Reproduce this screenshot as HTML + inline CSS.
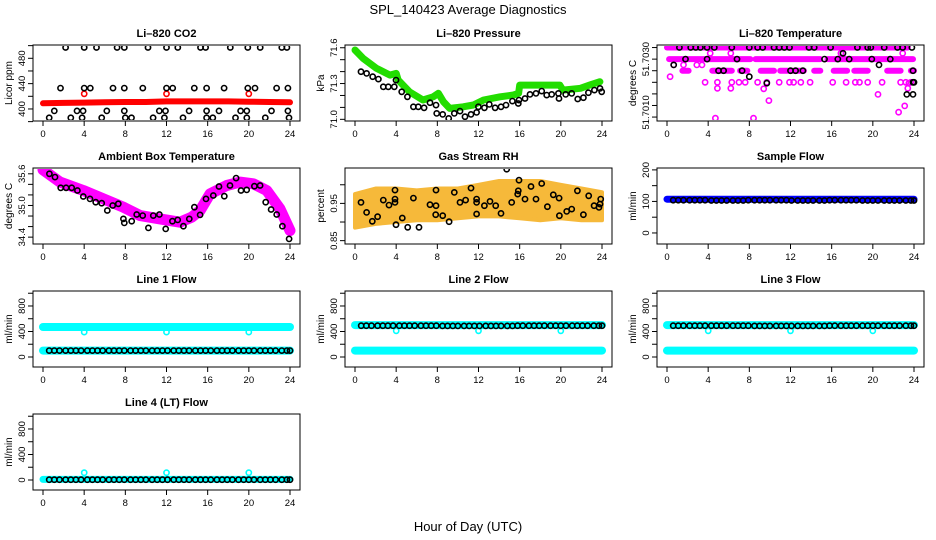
<!DOCTYPE html>
<html><head><meta charset="utf-8"><title>SPL_140423 Average Diagnostics</title>
<style>
html,body{margin:0;padding:0;background:#fff;}
svg{display:block;font-family:"Liberation Sans",Arial,sans-serif;}
</style></head>
<body>
<svg id="chart" width="936" height="540" viewBox="0 0 936 540" xmlns="http://www.w3.org/2000/svg">
<rect x="0" y="0" width="936" height="540" fill="#fff"/>
<text x="468" y="14" text-anchor="middle" font-size="13">SPL_140423  Average Diagnostics</text>
<text x="468" y="531" text-anchor="middle" font-size="13">Hour of Day (UTC)</text>
</svg>
<script>
// ---------- data ----------
const xTicks = [0,4,8,12,16,20,24];

// CO2
const co2RedHours = [0,2,4,6,8,10,12,14,16,18,20,22,24];
const co2RedValues = [409,409.5,410,410.5,411,411,412,412,412,412,411.5,411,410.5];
const co2RedCircleHours = [4,12,20];
const co2RedCircleValues = [424,424,424];
const co2BlackHours = [2.2,4.0,5.2,7.2,7.9,10.2,12.0,13.1,15.3,15.8,18.2,19.9,21.1,23.2,23.7,
 1.7,4.0,4.6,6.8,7.9,9.7,12.0,12.6,14.7,15.9,17.6,19.9,20.6,22.7,23.8,
 1.1,3.3,3.9,6.2,7.9,11.3,11.9,14.2,15.9,17.1,19.2,19.8,22.2,23.8,
 0.6,2.7,3.8,5.7,8.0,8.6,10.7,11.8,13.6,15.9,16.5,18.7,19.8,21.6,23.9];
const co2BlackValues = [497,497,497,497,497,497,497,497,497,497,497,497,497,497,497,
 433,433,433,433,433,433,433,433,433,433,433,433,433,433,433,
 397,397,397,397,397,397,397,397,397,397,397,397,397,397,
 386,386,386,386,386,386,386,386,386,386,386,386,386,386,386];
const co2Ticks = [380,400,420,440,460,480,500];
const co2Labels = ["400","440","480"];
const co2LabelValues = [400,440,480];

// Pressure
const presGreenHours = [0,0.8,2.1,3.4,4.0,4.2,5.3,6.6,7.6,8.1,8.6,9.2,10.5,11.5,12.5,14.1,15.4,15.9,16.0,17.3,18.6,19.9,20.2,21.9,22.8,23.8];
const presGreenValues = [71.581,71.511,71.427,71.371,71.385,71.329,71.231,71.162,71.189,71.218,71.147,71.092,71.105,71.120,71.162,71.189,71.204,71.218,71.287,71.287,71.287,71.287,71.245,71.260,71.287,71.315];
const presBlackHours = [0.58,1.13,1.72,2.27,2.75,3.24,3.82,3.98,4.54,5.09,5.67,6.15,6.71,7.29,7.87,7.94,8.52,9.10,9.65,10.2,10.69,11.27,11.82,11.99,12.57,13.05,13.61,14.19,14.67,15.29,15.87,15.94,16.52,17.0,17.59,18.14,18.63,19.11,19.76,19.82,20.47,21.06,21.64,22.19,22.68,23.26,23.81,23.97];
const presBlackValues = [71.399,71.385,71.357,71.337,71.273,71.273,71.273,71.329,71.231,71.189,71.105,71.105,71.097,71.139,71.119,71.050,71.041,71.008,71.050,71.069,71.022,71.041,71.058,71.105,71.097,71.125,71.097,71.105,71.119,71.153,71.133,71.161,71.175,71.209,71.217,71.237,71.203,71.209,71.217,71.175,71.209,71.217,71.170,71.181,71.223,71.245,71.259,71.231];
const presTicks = [71.0,71.1,71.2,71.3,71.4,71.5,71.6];
const presLabels = ["71.0","71.3","71.6"];
const presLabelValues = [71.0,71.3,71.6];

// Li-820 temperature
const tempSegStart = [0,0.2,8.6,15.6,1.5,4.4,7.1,9.1,11.0,11.9,14.3,16.2,18.2,21.4,23.7];
const tempSegEnd = [23.4,8.1,14.9,23.9,2.1,6.3,7.8,10.4,11.7,13.3,14.9,17.5,19.5,22.7,24.0];
const tempSegLevel = [51.7035,51.7030,51.7030,51.7030,51.7025,51.7025,51.7025,51.7025,51.7025,51.7025,51.7025,51.7025,51.7025,51.7025,51.7025];
const tempMagHours = [3.7,4.9,6.3,7.0,7.6,8.8,9.7,10.9,11.9,12.3,13.0,13.9,16.1,17.4,18.3,18.7,19.5,20.9,22.7,23.2,23.7,
 0.3,0.65,1.6,2.9,3.4,4.9,6.2,9.4,9.9,4.7,8.4,20.5,22.5,23.1,23.4,23.5,22.9,16.9,4.2,6.2];
const tempMagValues = [51.7020,51.7020,51.7020,51.7020,51.7020,51.7020,51.7020,51.7020,51.7020,51.7020,51.7020,51.7020,51.7020,51.7020,51.7020,51.7020,51.7020,51.7020,51.7020,51.7020,51.7020,
 51.70224,51.70275,51.70275,51.70275,51.70275,51.70174,51.70174,51.70172,51.70121,51.70045,51.70045,51.70148,51.70071,51.70098,51.70174,51.70196,51.70325,51.70325,51.70325,51.70325];
const tempBlackHours = [1.2,2.3,2.8,3.25,3.9,4.6,6.3,8.0,8.8,9.3,10.4,10.9,11.4,11.9,13.8,14.3,15.9,18.5,19.5,19.8,21.1,22.4,22.9,23.8,
 1.8,3.9,6.8,15.3,16.6,17.7,19.9,21.7,
 5.0,5.5,7.3,12.0,12.5,13.2,23.9,24.0,
 0.65,8.0,9.7,17.1,20.6,23.9,23.3,23.9];
const tempBlackValues = [51.7035,51.7035,51.7035,51.7035,51.7035,51.7035,51.7035,51.7035,51.7035,51.7035,51.7035,51.7035,51.7035,51.7035,51.7035,51.7035,51.7035,51.7035,51.7035,51.7035,51.7035,51.7035,51.7035,51.7035,
 51.7030,51.7030,51.7030,51.7030,51.7030,51.7030,51.7030,51.7030,
 51.7025,51.7025,51.7025,51.7025,51.7025,51.7025,51.7025,51.7020,
 51.70275,51.70224,51.70196,51.70325,51.70275,51.7020,51.70148,51.70148];
const tempTicks = [51.7005,51.7010,51.7015,51.7020,51.7025,51.7030,51.7035];
const tempLabels = ["51.7010","51.7030"];
const tempLabelValues = [51.7007,51.7030];

// Ambient box temperature
const ambBandHours = [0,1.65,3.92,5.86,7.81,9.43,11.37,13.31,14.45,15.26,16.23,17.85,19.14,20.44,21.74,23.03,24.0];
const ambBandValues = [35.676,35.442,35.283,35.126,34.968,34.809,34.746,34.683,34.778,34.904,35.22,35.378,35.442,35.41,35.283,34.936,34.524];
const ambBlackHours = [0.62,1.17,1.72,2.24,2.79,3.34,3.92,4.57,5.12,5.70,6.25,6.77,7.32,7.81,7.90,8.62,9.10,9.69,10.24,10.72,11.31,11.92,12.57,13.09,13.64,14.22,14.71,15.26,15.84,16.55,17.10,17.62,18.17,18.76,19.24,19.79,20.54,21.09,21.64,22.16,22.71,23.26,23.91];
const ambBlackValues = [35.600,35.537,35.334,35.334,35.334,35.284,35.170,35.125,35.062,35.043,34.904,34.999,35.031,34.746,34.670,34.702,34.828,34.809,34.575,34.809,34.828,34.556,34.702,34.727,34.607,34.746,34.967,34.822,35.125,35.189,35.359,35.176,35.378,35.518,35.284,35.296,35.366,35.378,35.062,34.923,34.828,34.607,34.366];
const ambTicks = [34.4,34.6,34.8,35.0,35.2,35.4,35.6];
const ambLabels = ["34.4","35.0","35.6"];
const ambLabelValues = [34.4,35.0,35.6];

// Gas stream RH
const rhEnvHours = [0,2,4,6,8,10,12,14,16,18,20,22,24];
const rhUpper = [0.975,0.99,0.99,0.985,0.99,0.99,1.0,1.01,1.01,1.01,1.0,0.99,0.98];
const rhLower = [0.885,0.895,0.9,0.905,0.905,0.91,0.915,0.915,0.91,0.905,0.91,0.905,0.905];
const rhBlackHours = [0.58,1.13,1.68,2.20,2.75,3.30,3.89,3.89,3.89,3.98,4.60,5.12,5.67,6.22,7.29,7.84,7.87,7.87,8.52,9.14,9.65,10.20,10.75,11.27,11.82,11.82,11.82,12.57,13.12,13.67,14.19,14.74,15.23,15.81,15.94,15.87,16.52,17.10,17.59,18.14,18.69,19.27,19.83,19.86,20.57,21.06,21.61,22.19,22.71,23.23,23.71,23.81,23.87];
const rhBlackValues = [0.9526,0.9259,0.9018,0.9143,0.9589,0.9455,0.9526,0.9615,0.9856,0.8929,0.9107,0.8858,0.9642,0.8858,0.9464,0.9197,0.9437,0.9856,0.9170,0.9009,0.9794,0.9526,0.9589,0.9910,0.9615,0.9526,0.9214,0.9437,0.9553,0.9437,0.9232,1.0418,0.9526,0.9749,1.0123,0.9838,0.9615,0.9954,0.9615,1.0034,0.9410,0.9731,0.9642,0.9170,0.9286,0.9348,0.9838,0.9197,0.9705,0.9437,0.9393,0.9482,0.9615];
const rhTicks = [0.85,0.90,0.95,1.00];
const rhLabels = ["0.85","0.95"];
const rhLabelValues = [0.85,0.95];

// Flows (shared black marker hours)
const flowHours = [0.6,1.1,1.6,2.2,2.7,3.2,3.7,4.3,4.8,5.3,5.8,6.4,6.9,7.4,7.9,8.5,9.0,9.5,10.0,10.6,11.1,11.6,12.1,12.7,13.2,13.7,14.2,14.8,15.3,15.8,16.3,16.9,17.4,17.9,18.4,19.0,19.5,20.0,20.5,21.1,21.6,22.1,22.6,23.2,23.7,24.0];
const bandHours = [0,24];
const sampleBand = [107,107];
const sampleBlack = [104,104,104,104,104,104,104,103,103,103,103,103,103,103,104,104,104,104,104,104,104,104,103,103,103,103,103,103,103,104,104,104,104,104,104,103,103,103,103,103,103,103,103,103,103,103];
const line1BandHigh = [470,470];
const line1BandLow = [100,100];
const line1Black = [100,100,100,100,100,100,100,100,100,100,100,100,100,100,100,100,100,100,100,100,100,100,100,100,100,100,100,100,100,100,100,100,100,100,100,100,100,100,100,100,100,100,100,100,100,100];
const line2BandHigh = [500,500];
const line2BandLow = [100,100];
const line2Black = [490,490,490,490,490,490,490,490,490,490,490,490,490,490,490,488,488,488,488,488,488,488,488,488,488,488,488,488,488,490,490,490,490,490,490,490,490,490,490,490,490,490,490,490,490,490];
const line3BandHigh = [500,500];
const line3BandLow = [100,100];
const line3Black = [490,490,490,490,490,490,490,490,490,490,490,490,490,490,490,488,488,488,488,488,488,488,488,488,488,488,488,488,488,490,490,490,490,490,490,490,490,490,490,490,490,490,490,490,490,490];
const line4Band = [10,10];
const line4Black = [5,5,5,5,5,5,5,5,5,5,5,5,5,5,5,5,5,5,5,5,5,5,5,5,5,5,5,5,5,5,5,5,5,5,5,5,5,5,5,5,5,5,5,5,5,5];
const cyanCircleHours = [4,12,20];
const line1Circle = [390,390,390];
const line2Circle = [410,410,410];
const line3Circle = [410,410,410];
const line4Circle = [115,115,115];
const sampleTicks = [0,50,100,150,200];
const sampleLabels = ["0","100","200"];
const sampleLabelValues = [0,100,200];
const flowTicks = [0,200,400,600,800,1000];
const flowLabels = ["0","400","800"];
const flowLabelValues = [0,400,800];

// ---------- drawing ----------
const NS = 'http://www.w3.org/2000/svg';
const svg = document.getElementById('chart');
const colLeft = [33,345,657];
const rowTop = [45,168,291,414];
const BOXW = 267, BOXH = 76;
const TICKFONT = 9.5;

function el(tag, attrs, parent){
  const e = document.createElementNS(NS, tag);
  for (const k in attrs) e.setAttribute(k, attrs[k]);
  (parent || svg).appendChild(e);
  return e;
}

function makePanel(key, col, row, ymax, ymin, title, ylab, ticks, labVals, labs){
  const left = colLeft[col], top = rowTop[row];
  const g = el('g', {});
  
  
  const p = {g, left, top, right:left+BOXW, bottom:top+BOXH,
    sx: h => left + 10 + h * (BOXW - 20) / 24,
    sy: v => top + (ymax - v) / (ymax - ymin) * BOXH};
  const box = el('rect', {x:left, y:top, width:BOXW, height:BOXH, fill:'none', stroke:'#000', 'stroke-width':1}, g);
  
  
  const t = el('text', {x:left + BOXW/2, y:top - 8, 'text-anchor':'middle', 'font-size':11, 'font-weight':'bold'}, g);
  t.textContent = title;
  
  
  const yl = el('text', {transform:'translate(' + (left - 21) + ',' + (top + BOXH/2) + ') rotate(-90)', 'text-anchor':'middle', 'font-size':10}, g);
  yl.textContent = ylab;
  
  
  for (const h of xTicks){
    const x = p.sx(h);
    const tk = el('line', {x1:x, x2:x, y1:p.bottom, y2:p.bottom + 5, stroke:'#000'}, g);
    
    
    const tl = el('text', {x:x, y:p.bottom + 16, 'text-anchor':'middle', 'font-size':TICKFONT}, g);
    tl.textContent = String(h);
    
    
  }
  for (const v of ticks){
    const y = p.sy(v);
    const tk = el('line', {x1:left - 5, x2:left, y1:y, y2:y, stroke:'#000'}, g);
    
    
  }
  labVals.forEach((v, i) => {
    const y = p.sy(v);
    const tl = el('text', {transform:'translate(' + (left - 8) + ',' + y + ') rotate(-90)', 'text-anchor':'middle', 'font-size':TICKFONT}, g);
    tl.textContent = labs[i];
    
    
  });
  const clip = el('clipPath', {id:'clip-' + key}, g);
  el('rect', {x:left + 1, y:top + 1, width:BOXW - 2, height:BOXH - 2}, clip);
  p.data = el('g', {'clip-path':'url(#clip-' + key + ')'}, g);
  p.key = key;
  return p;
}

function band(p, hours, values, color, width, name){
  const pts = hours.map((h, i) => p.sx(h).toFixed(1) + ',' + p.sy(values[i]).toFixed(1)).join(' ');
  const l = el('polyline', {points:pts, fill:'none', stroke:color, 'stroke-width':width, 'stroke-linejoin':'round', 'stroke-linecap':'round'}, p.data);
  
  
}

function circles(p, hours, values, color, name, r, sw){
  hours.forEach((h, i) => {
    const c = el('circle', {cx:p.sx(h).toFixed(1), cy:p.sy(values[i]).toFixed(1), r:r || 2.6, fill:'none', stroke:color, 'stroke-width':sw || 1.6}, p.data);
    
    
  });
}

// CO2
const pCO2 = makePanel('co2', 0, 0, 501, 381, 'Li\u2013820 CO2', 'Licor ppm', co2Ticks, co2LabelValues, co2Labels);
band(pCO2, co2RedHours, co2RedValues, '#ff0000', 6, 'co2-red-series');
circles(pCO2, co2RedCircleHours, co2RedCircleValues, '#ff0000', 'co2-red-point');
circles(pCO2, co2BlackHours, co2BlackValues, '#000', 'co2-black-point');

// Pressure
const pPres = makePanel('pressure', 1, 0, 71.623, 70.986, 'Li\u2013820 Pressure', 'kPa', presTicks, presLabelValues, presLabels);
band(pPres, presGreenHours, presGreenValues, '#22dd00', 7, 'pressure-green-series');
circles(pPres, presBlackHours, presBlackValues, '#000', 'pressure-black-point');

// Li-820 temperature
const pTemp = makePanel('li820-temp', 2, 0, 51.70361, 51.70033, 'Li\u2013820 Temperature', 'degrees C', tempTicks, tempLabelValues, tempLabels);
tempSegStart.forEach((s, i) => {
  band(pTemp, [s, tempSegEnd[i]], [tempSegLevel[i], tempSegLevel[i]], '#ff00ff', 6, 'temp-magenta-segment');
});
circles(pTemp, tempMagHours, tempMagValues, '#ff00ff', 'temp-magenta-point');
circles(pTemp, tempBlackHours, tempBlackValues, '#000', 'temp-black-point');

// Ambient
const pAmb = makePanel('ambient-temp', 0, 1, 35.71, 34.27, 'Ambient Box Temperature', 'degrees C', ambTicks, ambLabelValues, ambLabels);
band(pAmb, ambBandHours, ambBandValues, '#ff00ff', 11, 'ambient-magenta-series');
circles(pAmb, ambBlackHours, ambBlackValues, '#000', 'ambient-black-point');

// RH
const pRH = makePanel('rh', 1, 1, 1.045, 0.841, 'Gas Stream RH', 'percent', rhTicks, rhLabelValues, rhLabels);
{
  const up = rhEnvHours.map((h, i) => pRH.sx(h).toFixed(1) + ',' + pRH.sy(rhUpper[i]).toFixed(1));
  const lo = rhEnvHours.map((h, i) => pRH.sx(h).toFixed(1) + ',' + pRH.sy(rhLower[i]).toFixed(1)).reverse();
  const poly = el('polygon', {points:up.concat(lo).join(' '), fill:'#f6b93a', stroke:'#f6b93a', 'stroke-width':4, 'stroke-linejoin':'round'}, pRH.data);
  
  
}
circles(pRH, rhBlackHours, rhBlackValues, '#000', 'rh-black-point');

// Sample flow
const pSample = makePanel('sample-flow', 2, 1, 206, -35, 'Sample Flow', 'ml/min', sampleTicks, sampleLabelValues, sampleLabels);
band(pSample, bandHours, sampleBand, '#0000ff', 7, 'sample-blue-series');
circles(pSample, flowHours, sampleBlack, '#000', 'sample-black-point');

// Line flows
const pL1 = makePanel('line1-flow', 0, 2, 1035, -157, 'Line 1 Flow', 'ml/min', flowTicks, flowLabelValues, flowLabels);
band(pL1, bandHours, line1BandHigh, '#00ffff', 8, 'line1-cyan-high');
band(pL1, bandHours, line1BandLow, '#00ffff', 8, 'line1-cyan-low');
circles(pL1, cyanCircleHours, line1Circle, '#00ffff', 'line1-cyan-point');
circles(pL1, flowHours, line1Black, '#000', 'line1-black-point');

const pL2 = makePanel('line2-flow', 1, 2, 1035, -157, 'Line 2 Flow', 'ml/min', flowTicks, flowLabelValues, flowLabels);
band(pL2, bandHours, line2BandHigh, '#00ffff', 8, 'line2-cyan-high');
band(pL2, bandHours, line2BandLow, '#00ffff', 8, 'line2-cyan-low');
circles(pL2, cyanCircleHours, line2Circle, '#00ffff', 'line2-cyan-point');
circles(pL2, flowHours, line2Black, '#000', 'line2-black-point');

const pL3 = makePanel('line3-flow', 2, 2, 1035, -157, 'Line 3 Flow', 'ml/min', flowTicks, flowLabelValues, flowLabels);
band(pL3, bandHours, line3BandHigh, '#00ffff', 8, 'line3-cyan-high');
band(pL3, bandHours, line3BandLow, '#00ffff', 8, 'line3-cyan-low');
circles(pL3, cyanCircleHours, line3Circle, '#00ffff', 'line3-cyan-point');
circles(pL3, flowHours, line3Black, '#000', 'line3-black-point');

const pL4 = makePanel('line4-flow', 0, 3, 1035, -157, 'Line 4 (LT) Flow', 'ml/min', flowTicks, flowLabelValues, flowLabels);
band(pL4, bandHours, line4Band, '#00ffff', 7, 'line4-cyan-series');
circles(pL4, cyanCircleHours, line4Circle, '#00ffff', 'line4-cyan-point');
circles(pL4, flowHours, line4Black, '#000', 'line4-black-point');
</script>
</body></html>
